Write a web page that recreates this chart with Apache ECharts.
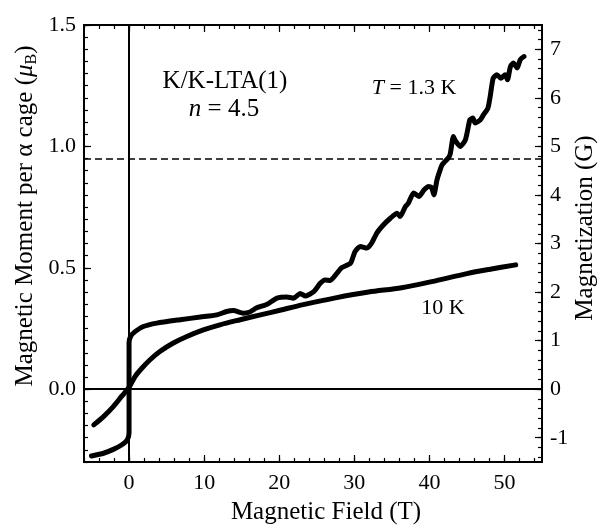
<!DOCTYPE html>
<html>
<head>
<meta charset="utf-8">
<script src="https://cdn.jsdelivr.net/npm/echarts@6/dist/echarts.min.js"></script>
<style>
  html, body { margin: 0; padding: 0; background: #fff; }
  #chart { width: 600px; height: 525px; }
</style>
</head>
<body>
<div id="chart"></div>
<script>
// magnetization curves, [field (T), moment per alpha cage (uB)]
var curve13K = [
  [-5.0, -0.275], [-3.4, -0.264], [-2.1, -0.248], [-1.0, -0.23], [-0.25, -0.21], [0, -0.18],
  [0, 0.19], [0.2, 0.217], [0.8, 0.237], [1.9, 0.258], [3.7, 0.272], [6.8, 0.286],
  [9.5, 0.297], [11.7, 0.306], [13.0, 0.32], [13.9, 0.324], [15.2, 0.313], [16.1, 0.318],
  [17.0, 0.335], [18.4, 0.35], [19.7, 0.375], [21.0, 0.38], [21.9, 0.375], [22.8, 0.394],
  [23.5, 0.384], [24.6, 0.402], [25.5, 0.437], [26.1, 0.45], [26.8, 0.448], [27.7, 0.478],
  [28.3, 0.5], [29.5, 0.519], [30.1, 0.567], [30.8, 0.588], [31.7, 0.581], [32.3, 0.601],
  [33.0, 0.643], [33.9, 0.677], [34.8, 0.704], [35.7, 0.725], [36.1, 0.711], [36.8, 0.752],
  [37.2, 0.766], [37.9, 0.808], [38.6, 0.794], [39.3, 0.821], [39.9, 0.835], [40.3, 0.83],
  [40.6, 0.80], [41.0, 0.86], [41.4, 0.90], [41.7, 0.924], [42.1, 0.938], [42.6, 0.956],
  [42.8, 0.972], [43.2, 1.041], [43.4, 1.027], [44.1, 1.0], [44.8, 1.027], [45.4, 1.11],
  [45.8, 1.117], [46.1, 1.096], [46.8, 1.11], [47.2, 1.13], [47.8, 1.158], [48.1, 1.206],
  [48.5, 1.281], [49.0, 1.295], [49.5, 1.281], [50.1, 1.295], [50.4, 1.274], [50.8, 1.329],
  [51.2, 1.343], [51.7, 1.323], [52.1, 1.357], [52.6, 1.37]
];
var curve10K = [
  [-4.7, -0.147], [-3.4, -0.113], [-2.1, -0.072], [-1.0, -0.03], [0, 0.008], [0.8, 0.052],
  [1.7, 0.086], [2.8, 0.121], [4.1, 0.155], [5.9, 0.19], [7.7, 0.217], [9.9, 0.244],
  [12.1, 0.265], [14.8, 0.286], [17.5, 0.306], [20.1, 0.325], [23.2, 0.348], [27.5, 0.376],
  [31.9, 0.4], [36.3, 0.418], [40.3, 0.443], [45.0, 0.476], [48.1, 0.494], [51.5, 0.512]
];
var saturationLevel = 0.955;   // dashed line

// tick labels
var xTicks = [0, 10, 20, 30, 40, 50];
var leftTicks = [0, 0.5, 1.0, 1.5];
var rightTicks = [-1, 0, 1, 2, 3, 4, 5, 6, 7];

function steps (from, to, step) {
  var out = [];
  for (var v = from; v <= to + 1e-9; v += step) out.push(Math.round(v * 1000) / 1000);
  return out;
}
var xMinor = steps(-6, 54, 2);
var leftMinor = steps(-0.3, 1.5, 0.05);
var rightMinor = steps(-1.4, 7.4, 0.2);

var FONT = '"Liberation Serif", "Times New Roman", serif';
var black = '#000';

function xAx (pos, ticks, len, labels) {
  return {
    type: 'value', position: pos, min: -6, max: 55,
    axisLine: { show: true, onZero: false, lineStyle: { color: black, width: 2 } },
    axisTick: { show: true, inside: true, length: len, customValues: ticks, lineStyle: { color: black, width: 1.2 } },
    axisLabel: labels ? { show: true, customValues: ticks, color: black, fontFamily: FONT, fontSize: 22, margin: 10 } : { show: false },
    splitLine: { show: false }
  };
}
function yAx (pos, min, max, ticks, len, labels, fmt) {
  return {
    type: 'value', position: pos, min: min, max: max,
    axisLine: { show: true, onZero: false, lineStyle: { color: black, width: 2 } },
    axisTick: { show: true, inside: true, length: len, customValues: ticks, lineStyle: { color: black, width: 1.2 } },
    axisLabel: labels ? { show: true, customValues: ticks, color: black, fontFamily: FONT, fontSize: 22, margin: 8, formatter: fmt } : { show: false },
    splitLine: { show: false }
  };
}

var chart = echarts.init(document.getElementById('chart'));
var option = {
  animation: false,
  backgroundColor: '#fff',
  textStyle: { fontFamily: FONT },
  grid: { left: 84, right: 58, top: 25, bottom: 63, containLabel: false, outerBoundsMode: 'none' },
  xAxis: [
    xAx('bottom', xTicks, 7, true),
    xAx('bottom', xMinor, 4, false),
    xAx('top', xTicks, 7, false),
    xAx('top', xMinor, 4, false)
  ],
  yAxis: [
    yAx('left', -0.3, 1.5, leftTicks, 7, true, function (v) { return v.toFixed(1); }),
    yAx('left', -0.3, 1.5, leftMinor, 4, false),
    yAx('right', -1.5, 7.5, rightTicks, 7, true, function (v) { return String(v); }),
    yAx('right', -1.5, 7.5, rightMinor, 4, false)
  ],
  series: [
    {
      type: 'line', name: '1.3 K', data: curve13K, xAxisIndex: 0, yAxisIndex: 0,
      showSymbol: false, smooth: 0.2,
      lineStyle: { color: black, width: 5, cap: 'round', join: 'round' },
      z: 3,
      markLine: {
        silent: true, symbol: 'none', label: { show: false },
        data: [
          { xAxis: 0, lineStyle: { color: black, width: 2, type: 'solid' } },
          { yAxis: 0, lineStyle: { color: black, width: 2, type: 'solid' } },
          { yAxis: saturationLevel, lineStyle: { color: black, width: 1.5, type: [7, 4] } }
        ]
      }
    },
    {
      type: 'line', name: '10 K', data: curve10K, xAxisIndex: 0, yAxisIndex: 0,
      showSymbol: false, smooth: 0.3,
      lineStyle: { color: black, width: 5, cap: 'round', join: 'round' },
      z: 3
    }
  ],
  graphic: [
    { type: 'text', x: 225, y: 81, style: { text: 'K/K-LTA(1)', fontFamily: FONT, fontSize: 25, fill: black, align: 'center', verticalAlign: 'middle' } },
    { type: 'text', x: 224, y: 109, style: {
        text: '{i|n} = 4.5', fontFamily: FONT, fontSize: 25, fill: black, align: 'center', verticalAlign: 'middle',
        rich: { i: { fontFamily: FONT, fontSize: 25, fontStyle: 'italic', fill: black } } } },
    { type: 'text', x: 414, y: 88, style: {
        text: '{i|T} = 1.3 K', fontFamily: FONT, fontSize: 22, fill: black, align: 'center', verticalAlign: 'middle',
        rich: { i: { fontFamily: FONT, fontSize: 22, fontStyle: 'italic', fill: black } } } },
    { type: 'text', x: 443, y: 308, style: { text: '10 K', fontFamily: FONT, fontSize: 22, fill: black, align: 'center', verticalAlign: 'middle' } },
    { type: 'text', x: 326, y: 512, style: { text: 'Magnetic Field (T)', fontFamily: FONT, fontSize: 25, fill: black, align: 'center', verticalAlign: 'middle' } },
    { type: 'text', x: 25, y: 216, rotation: Math.PI / 2, style: {
        text: 'Magnetic Moment per α cage ({mu|μ}{sub|B})', fontFamily: FONT, fontSize: 25, fill: black,
        align: 'center', verticalAlign: 'middle',
        rich: {
          mu: { fontFamily: FONT, fontSize: 25, fontStyle: 'italic', fill: black },
          sub: { fontFamily: FONT, fontSize: 16, fill: black, padding: [14, 0, 0, 0] }
        } } },
    { type: 'text', x: 585, y: 228, rotation: Math.PI / 2, style: { text: 'Magnetization (G)', fontFamily: FONT, fontSize: 25, fill: black, align: 'center', verticalAlign: 'middle' } }
  ]
};
chart.setOption(option);
</script>
</body>
</html>
